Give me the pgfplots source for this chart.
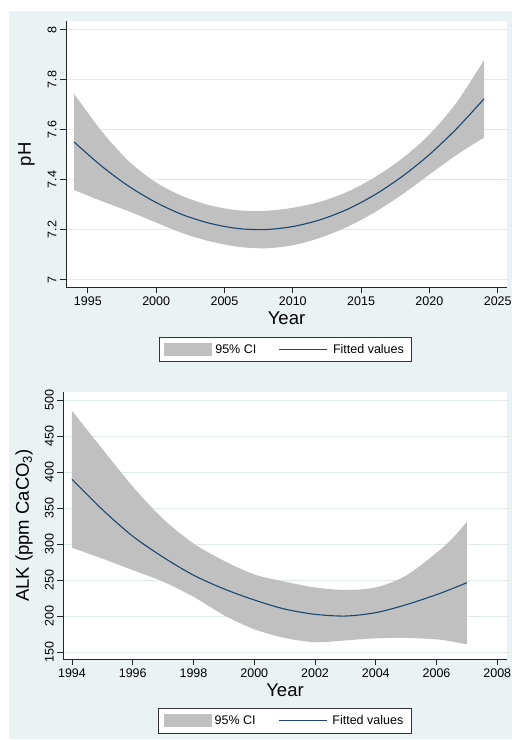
\documentclass[border=0pt]{standalone}
\usepackage{fontspec}
\setmainfont{Liberation Sans}
\usepackage{pgfplots}
\pgfplotsset{compat=1.18}
\usepgfplotslibrary{fillbetween}
\usepackage{pgfplotstable}

\definecolor{bgc}{HTML}{EAF2F3}
\definecolor{gridc}{HTML}{E0EAEC}
\definecolor{cic}{HTML}{C0C0C0}
\definecolor{navyc}{HTML}{1A476F}

\newcommand{\lf}{\fontsize{12.5}{14.5}\selectfont}

\pgfplotstableread{
x fit lo hi
1994 7.550 7.358 7.742
1996 7.454 7.314 7.594
1998 7.373 7.273 7.473
2000 7.308 7.228 7.388
2002 7.258 7.184 7.332
2004 7.224 7.152 7.296
2006 7.204 7.131 7.277
2008 7.200 7.125 7.275
2010 7.212 7.137 7.287
2012 7.239 7.167 7.311
2014 7.281 7.211 7.351
2016 7.339 7.269 7.409
2018 7.412 7.340 7.484
2020 7.500 7.420 7.580
2022 7.604 7.499 7.709
2024 7.723 7.568 7.878
}\phdata

\pgfplotstableread{
x fit lo hi
1994 390 295 485
1995 348 280 432
1996 311 264 380
1997 282 248 335
1998 257 227 301
1999 238 201.5 277
2000 222.6 182 258
2001 210 170 248
2002 202.7 164 240
2003 200.3 166.5 236.5
2004 205 169.4 240
2005 216 170 256.5
2006 230 168 288
2006.5 238 165 307
2007 246.6 161 331
}\alkdata

\pgfplotsset{
  stata/.style={
    scale only axis,
    axis background/.style={fill=white},
    axis x line*=bottom, axis y line*=left,
    axis line style={-, black!85, line width=0.8pt},
    tick align=outside, major tick length=6pt,
    tick style={black!85, line width=0.8pt},
    ymajorgrids, grid style={gridc, line width=0.8pt},
    tick label style={font=\lf},
    /pgf/number format/assume math mode=true,
    /pgf/number format/1000 sep={},
    yticklabel style={rotate=90, anchor=south, /pgf/number format/fixed},
    label style={font=\fontsize{18.5}{22}\selectfont},
    xlabel style={at={(axis description cs:0.5,0)}, anchor=north, inner sep=0pt, yshift=-24.5pt},
    ylabel style={at={(axis description cs:0,0.5)}, anchor=north, inner sep=0pt, yshift=48pt},
    legend columns=2,
    legend style={draw=black!80, line width=1pt, fill=white,
      font=\lf, nodes={inner xsep=3pt},
      inner xsep=5pt, inner ysep=5pt,
      /tikz/column 2/.style={column sep=19.5pt}},
  },
  cilegend/.style={legend image code/.code={\fill[cic] (0pt,-6.6pt) rectangle (48pt,6.6pt);}},
  fitlegend/.style={legend image code/.code={\draw[navyc, line width=1.2pt] (0pt,0pt) -- (48pt,0pt);}},
}

\begin{document}
\pagecolor{bgc}%
\begin{tikzpicture}
\fill[white] (0,0) rectangle (9pt,740pt);
\fill[white] (0,729pt) rectangle (512pt,740pt);
\fill[white] (0,0) rectangle (512pt,1pt);

\begin{axis}[stata,
  at={(66pt,452.7pt)}, anchor=south west,
  width=441pt, height=266pt,
  xmin=1993.4, xmax=2025.68, ymin=6.969, ymax=8.033,
  xtick={1995,2000,...,2025},
  ytick={7,7.2,...,8.01},
  xlabel={Year}, ylabel={pH},
  legend style={at={(0.498,-0.234)}, anchor=center},
]
\addplot[draw=none, name path=U1, smooth, forget plot] table[x=x,y=hi]{\phdata};
\addplot[draw=none, name path=L1, smooth, forget plot] table[x=x,y=lo]{\phdata};
\addplot[fill=cic, draw=none, cilegend] fill between[of=U1 and L1];
\addlegendentry{\lf 95\% CI}
\addplot[navyc, line width=1.1pt, smooth, fitlegend] table[x=x,y=fit]{\phdata};
\addlegendentry{\lf\hspace{2pt}Fitted values\hspace{5pt}}
\end{axis}

\begin{axis}[stata,
  at={(63.3pt,80.7pt)}, anchor=south west,
  width=443.4pt, height=267.6pt,
  xmin=1993.714, xmax=2008.31, ymin=140.3, ymax=511.5,
  xtick={1994,1996,...,2008},
  ytick={150,200,...,500},
  xlabel={Year}, ylabel={ALK (ppm CaCO\textsubscript{3})},
  legend style={at={(0.5,-0.2298)}, anchor=center},
]
\addplot[draw=none, name path=U2, smooth, forget plot] table[x=x,y=hi]{\alkdata};
\addplot[draw=none, name path=L2, smooth, forget plot] table[x=x,y=lo]{\alkdata};
\addplot[fill=cic, draw=none, cilegend] fill between[of=U2 and L2];
\addlegendentry{\lf 95\% CI}
\addplot[navyc, line width=1.1pt, smooth, fitlegend] table[x=x,y=fit]{\alkdata};
\addlegendentry{\lf\hspace{2pt}Fitted values\hspace{5pt}}
\end{axis}
\pgfresetboundingbox
\useasboundingbox (0,0) rectangle (512pt,740pt);
\end{tikzpicture}
\end{document}
